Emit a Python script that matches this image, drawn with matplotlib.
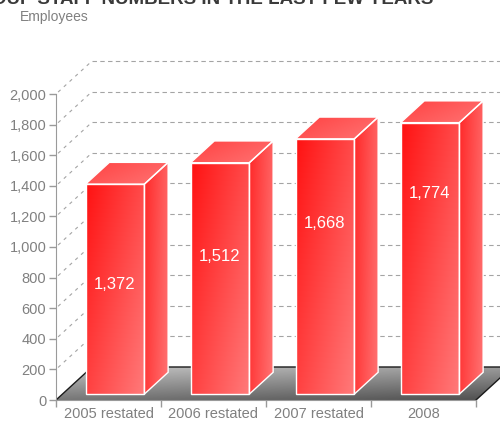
import matplotlib
matplotlib.use("Agg")
import matplotlib.pyplot as plt
import numpy as np
from matplotlib.patches import Polygon
from matplotlib.colors import to_rgb

plt.rcParams['font.family'] = ['Liberation Sans', 'DejaVu Sans']

# data
categories = ["2005 restated", "2006 restated", "2007 restated", "2008"]
staff = [1372, 1512, 1668, 1774]
y_ticks = [0, 200, 400, 600, 800, 1000, 1200, 1400, 1600, 1800, 2000]
title = "GROUP STAFF NUMBERS IN THE LAST FEW YEARS"
y_title = "Employees"

W, H = 500, 425
fig = plt.figure(figsize=(W / 100, H / 100), dpi=100)
# plot area: x axis from 56px to 476px, value 0 at 400px, 2000 at 94px
ax = fig.add_axes([56 / W, 25 / H, 444 / W, 306 / H])
ax.set_autoscale_on(False)
ax.set_xlim(0, 444 / 105)
ax.set_ylim(0, 2000)
ax.patch.set_visible(False)

# depth of the pseudo 3D box, in data units
DX = 36 / 105
DY = 33 / (306 / 2000)


def shade(pts, c0, c1, wu, wv, z):
    # fill a polygon with a linear gradient (u: left->right, v: top->bottom)
    pts = np.array(pts)
    poly = Polygon(pts, closed=True, fc='none', ec='none')
    ax.add_patch(poly)
    U, V = np.meshgrid(np.linspace(0, 1, 64), np.linspace(0, 1, 64))
    t = (wu * U + wv * V) / (wu + wv)
    img = (1 - t)[..., None] * np.array(to_rgb(c0)) + t[..., None] * np.array(to_rgb(c1))
    im = ax.imshow(img, extent=[pts[:, 0].min(), pts[:, 0].max(), pts[:, 1].min(), pts[:, 1].max()],
                   origin='upper', aspect='auto', interpolation='bilinear', zorder=z)
    im.set_clip_path(poly)


# back wall grid and the diagonal guides
grid_kw = dict(color='#a4a4a4', lw=0.8, dashes=(4, 3), clip_on=False, zorder=1)
diag_kw = dict(color='#a4a4a4', lw=0.8, dashes=(3, 4), clip_on=False, zorder=1)
for v in y_ticks[1:]:
    ax.plot([DX, 4.5], [v + DY, v + DY], **grid_kw)
    ax.plot([0.02, DX], [v + 0.02 / DX * DY, v + DY], **diag_kw)

# floor
floor = [(0, 0), (4, 0), (4 + DX, DY), (DX, DY)]
shade(floor, '#c4c4c4', '#4e4e4e', 0.35, 0.65, 1.5)
ax.plot([0, DX, 4 + DX], [0, DY, DY], color='#1a1a1a', lw=1, zorder=1.6, clip_on=True)
ax.plot([4, 4 + DX], [0, DY], color='#1a1a1a', lw=1, zorder=1.6)

# bars
bw = 0.56
f0 = 0.18
fd = 0.66
for i, v in enumerate(staff):
    x0 = i + 0.5 - bw / 2 + f0 * DX
    x1 = x0 + bw
    y0 = f0 * DY
    y1 = v + f0 * DY
    ddx, ddy = fd * DX, fd * DY
    front = [(x0, y0), (x1, y0), (x1, y1), (x0, y1)]
    side = [(x1, y0), (x1 + ddx, y0 + ddy), (x1 + ddx, y1 + ddy), (x1, y1)]
    top = [(x0, y1), (x1, y1), (x1 + ddx, y1 + ddy), (x0 + ddx, y1 + ddy)]
    shade(side, '#ff2828', '#ff7272', 1.0, 0.3, 3)
    shade(top, '#ff4242', '#ff7474', 1.0, 0.6, 3)
    shade(front, '#ff1212', '#ff7a7a', 0.55, 0.45, 3)
    for face in (side, top, front):
        ax.add_patch(Polygon(face, closed=True, fill=False, ec='white', lw=1.0, zorder=3.5))
    ax.text((x0 + x1) / 2, v * (0.55 + 0.07 * i), f"{v:,}", ha='center', va='center',
            color='white', fontsize=12, zorder=4)

# axes
for s in ('top', 'right'):
    ax.spines[s].set_visible(False)
ax.spines['left'].set_color('#9a9a9a')
ax.spines['bottom'].set_color('#9a9a9a')
ax.spines['bottom'].set_bounds(0, 4)
ax.set_yticks(y_ticks)
ax.yaxis.set_major_formatter(lambda v, p: f"{int(v):,}")
ax.tick_params(axis='y', colors='#9a9a9a', labelcolor='#808080', length=5, width=1,
               labelsize=10.5, pad=2)
ax.set_xticks(range(5))
ax.set_xticklabels([])
ax.set_xticks(np.arange(len(categories)) + 0.5, minor=True)
ax.set_xticklabels(categories, minor=True)
ax.tick_params(axis='x', which='major', colors='#9a9a9a', length=5, width=1)
ax.tick_params(axis='x', which='minor', length=0, labelcolor='#808080', labelsize=10.5, pad=5)

fig.text(20 / W, 1 - 17 / H, y_title, va='center', color='#808080', fontsize=10)
# title sits partly above the top edge, as in the original
fig.text(433 / W, 1 - 4 / H, title, ha='right', va='baseline', fontweight='bold',
         fontsize=13.5, color='#3a3a3a')

fig.savefig('out.png', dpi=100)
